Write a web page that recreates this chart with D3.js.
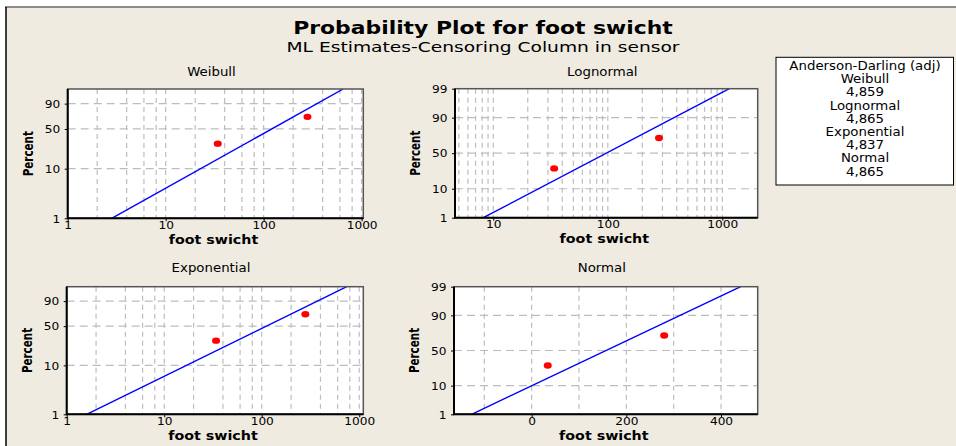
<!DOCTYPE html>
<html><head><meta charset="utf-8">
<script src="https://cdn.jsdelivr.net/npm/d3@7"></script>
<style>
html,body{margin:0;padding:0;background:#fff;}
svg{display:block;}
</style></head><body>
<svg id="chart" width="956" height="446"></svg>
<script>
// ---------- data ----------
const distributions = ["Weibull", "Lognormal", "Exponential", "Normal"];
const adLabels = ["4,859", "4,865", "4,837", "4,865"];
const obsX = [34, 280];
const obsPct = [29.2, 70.8];
const fitPct = [1, 99];
const fitXWeibull = [2.81, 649];
const fitXLognormal = [8.18, 1151];
const fitXExponential = [1.60, 745];
const fitXNormal = [-126.8, 441.6];
const xTicksLog = [1, 10, 100, 1000];
const xTicksLognormal = [10, 100, 1000];
const xTicksNormal = [0, 200, 400];
const yTicksWeibull = [1, 10, 50, 90];
const yTicksNormal = [1, 10, 50, 90, 99];
const yGrid = [10, 50, 90];
const xGridWeibull = [2, 4, 6, 8, 10, 20, 40, 60, 80, 100, 200, 400, 600, 800, 1000];
const xGridLognormal = [5, 6, 7, 8, 9, 10, 20, 30, 40, 50, 60, 70, 80, 90, 100, 200, 300, 400, 500, 600, 700, 800, 900, 1000];
const xGridNormal = [-100, 0, 100, 200, 300, 400];
const xDomainWeibull = [1, 1040];
const xDomainLognormal = [4.63, 2037];
const xDomainExponential = [1, 1100];
const xDomainNormal = [-164, 477.5];
const pDomain = [1, 99];
const titleText = "Probability Plot for foot swicht";
const subtitleText = "ML Estimates-Censoring Column in sensor";
const xLabel = "foot swicht";
const yLabel = "Percent";
const legendTitle = "Anderson-Darling (adj)";

// ---------- helpers ----------
function probit(p) {
  const a = [-3.969683028665376e+01, 2.209460984245205e+02, -2.759285104469687e+02, 1.383577518672690e+02, -3.066479806614716e+01, 2.506628277459239e+00];
  const b = [-5.447609879822406e+01, 1.615858368580409e+02, -1.556989798598866e+02, 6.680131188771972e+01, -1.328068155288572e+01];
  const c = [-7.784894002430293e-03, -3.223964580411365e-01, -2.400758277161838e+00, -2.549732539343734e+00, 4.374664141464968e+00, 2.938163982698783e+00];
  const d = [7.784695709041462e-03, 3.224671290700398e-01, 2.445134137142996e+00, 3.754408661907416e+00];
  const pl = 0.02425, ph = 1 - pl;
  let q, r;
  if (p < pl) { q = Math.sqrt(-2 * Math.log(p)); return (((((c[0]*q+c[1])*q+c[2])*q+c[3])*q+c[4])*q+c[5]) / ((((d[0]*q+d[1])*q+d[2])*q+d[3])*q+1); }
  if (p > ph) { q = Math.sqrt(-2 * Math.log(1 - p)); return -(((((c[0]*q+c[1])*q+c[2])*q+c[3])*q+c[4])*q+c[5]) / ((((d[0]*q+d[1])*q+d[2])*q+d[3])*q+1); }
  q = p - 0.5; r = q * q;
  return (((((a[0]*r+a[1])*r+a[2])*r+a[3])*r+a[4])*r+a[5])*q / (((((b[0]*r+b[1])*r+b[2])*r+b[3])*r+b[4])*r+1);
}
const tfWeib = p => Math.log(-Math.log(1 - p / 100));
const tfNorm = p => probit(p / 100);

const W = 956, H = 446;
const FONT = '"DejaVu Sans Condensed","DejaVu Sans",Verdana,sans-serif';
const KX = 1.3;
const svg = d3.select("#chart");

function label(parent, x, y, str, size, weight, anchor, rot, kx) {
  let tr = `translate(${x},${y}) scale(${kx || KX},1)`;
  if (rot) tr += ` rotate(${rot})`;
  return parent.append("text")
    .attr("transform", tr)
    .attr("font-family", FONT)
    .attr("font-size", size)
    .attr("font-weight", weight || "normal")
    .attr("text-anchor", anchor || "middle")
    .attr("fill", "#000")
    .text(str);
}

// ---------- background / frame ----------
svg.append("rect").attr("width", W).attr("height", H).attr("fill", "#fff");
svg.append("rect").attr("x", 6).attr("y", 7).attr("width", W - 6).attr("height", H - 7).attr("fill", "#EFEBE1");
svg.append("line").attr("x1", 5).attr("x2", W).attr("y1", 7).attr("y2", 7).attr("stroke", "#8c8c8c").attr("stroke-width", 2);
svg.append("line").attr("x1", 6).attr("x2", 6).attr("y1", 7).attr("y2", H).attr("stroke", "#000").attr("stroke-width", 1.5);

label(svg, 483, 33.5, titleText, 17, "bold", "middle", 0, 1.43);
label(svg, 483, 52, subtitleText, 14.5, "normal", "middle", 0, 1.43);

// ---------- panels ----------
const panels = [
  { name: distributions[0], log: true, tf: tfWeib, xDomain: xDomainWeibull, xTicks: xTicksLog, xGrid: xGridWeibull, yTicks: yTicksWeibull, fitX: fitXWeibull, box: [67.7, 89, 363.3, 218.3], titleY: 76 },
  { name: distributions[1], log: true, tf: tfNorm, xDomain: xDomainLognormal, xTicks: xTicksLognormal, xGrid: xGridLognormal, yTicks: yTicksNormal, fitX: fitXLognormal, box: [455, 88.7, 757.7, 217.7], titleY: 75.7 },
  { name: distributions[2], log: true, tf: tfWeib, xDomain: xDomainExponential, xTicks: xTicksLog, xGrid: xGridWeibull, yTicks: yTicksWeibull, fitX: fitXExponential, box: [66.7, 286.7, 363.3, 414.3], titleY: 271.7 },
  { name: distributions[3], log: false, tf: tfNorm, xDomain: xDomainNormal, xTicks: xTicksNormal, xGrid: xGridNormal, yTicks: yTicksNormal, fitX: fitXNormal, box: [454, 286.7, 757.7, 414.3], titleY: 271.7 }
];

panels.forEach((P, idx) => {
  const [x0, y0, x1, y1] = P.box;
  const g = svg.append("g");
  const xs = (P.log ? d3.scaleLog() : d3.scaleLinear()).domain(P.xDomain).range([x0, x1]);
  const ys = d3.scaleLinear().domain([P.tf(pDomain[0]), P.tf(pDomain[1])]).range([y1, y0]);
  const clipId = "clip" + idx;
  svg.append("clipPath").attr("id", clipId).append("rect")
    .attr("x", x0).attr("y", y0).attr("width", x1 - x0).attr("height", y1 - y0);

  g.append("rect").attr("x", x0).attr("y", y0).attr("width", x1 - x0).attr("height", y1 - y0).attr("fill", "#fff");

  const grid = g.append("g").attr("clip-path", `url(#${clipId})`);
  grid.selectAll("line.vx").data(P.xGrid).join("line")
    .attr("x1", d => xs(d)).attr("x2", d => xs(d)).attr("y1", y0).attr("y2", y1)
    .attr("stroke", "#bdbdbd").attr("stroke-width", 1.2).attr("stroke-dasharray", "5,4");
  grid.selectAll("line.hy").data(yGrid).join("line")
    .attr("x1", x0).attr("x2", x1).attr("y1", d => ys(P.tf(d))).attr("y2", d => ys(P.tf(d)))
    .attr("stroke", "#bdbdbd").attr("stroke-width", 1.2).attr("stroke-dasharray", "8,5");

  // fitted line
  const fitPts = fitPct.map((p, i) => [P.fitX[i], p]);
  g.append("path").attr("clip-path", `url(#${clipId})`)
    .attr("d", d3.line().x(d => xs(d[0])).y(d => ys(P.tf(d[1])))(fitPts))
    .attr("fill", "none").attr("stroke", "#0000ff").attr("stroke-width", 1.4);

  // observations
  g.selectAll("ellipse").data(obsX.map((x, i) => [x, obsPct[i]])).join("ellipse")
    .attr("cx", d => xs(d[0])).attr("cy", d => ys(P.tf(d[1])))
    .attr("rx", 4).attr("ry", 3.2).attr("fill", "#ff0000");

  // frame
  g.append("rect").attr("x", x0).attr("y", y0).attr("width", x1 - x0).attr("height", y1 - y0)
    .attr("fill", "none").attr("stroke", "#555").attr("stroke-width", 1.5);
  g.append("path").attr("d", `M${x0},${y0}V${y1}H${x1}`).attr("fill", "none").attr("stroke", "#000").attr("stroke-width", 2);

  // axes
  const ax = g.append("g").attr("transform", `translate(0,${y1})`)
    .call(d3.axisBottom(xs).tickValues(P.xTicks).tickSize(3).tickFormat(d => String(d)));
  ax.select(".domain").remove();
  ax.selectAll(".tick line").attr("stroke", "#000");
  ax.selectAll("text").attr("y", 10.3).attr("dy", 0).attr("transform", `scale(${KX},1)`)
    .attr("font-family", FONT).attr("font-size", 10.4).attr("fill", "#000");

  const ay = g.append("g").attr("transform", `translate(${x0},0)`)
    .call(d3.axisLeft(ys).tickValues(P.yTicks.map(P.tf)).tickSize(3).tickFormat((d, i) => String(P.yTicks[i])));
  ay.select(".domain").remove();
  ay.selectAll(".tick line").attr("stroke", "#000");
  ay.selectAll("text").attr("x", -7.5 / KX).attr("dy", "0.36em").attr("transform", `scale(${KX},1)`)
    .attr("font-family", FONT).attr("font-size", 10.4).attr("fill", "#000");

  // labels
  label(g, (x0 + x1) / 2 - 4, P.titleY, P.name, 11.4, "normal");
  label(g, (x0 + x1) / 2 - 2, y1 + 25.2, xLabel, 12.2, "bold");
  label(g, x0 - 35, (y0 + y1) / 2, yLabel, 11.5, "bold", "middle", -90);
});

// ---------- legend ----------
const lg = svg.append("g");
lg.append("rect").attr("x", 776).attr("y", 57.3).attr("width", 177.5).attr("height", 127.7)
  .attr("fill", "#fff").attr("stroke", "#000").attr("stroke-width", 1);
const legendLines = [legendTitle];
distributions.forEach((d, i) => { legendLines.push(d); legendLines.push(adLabels[i]); });
legendLines.forEach((t, i) => {
  label(lg, 865, 66 + i * 13.2 + 4, t, 11.4, "normal");
});
</script>
</body></html>
